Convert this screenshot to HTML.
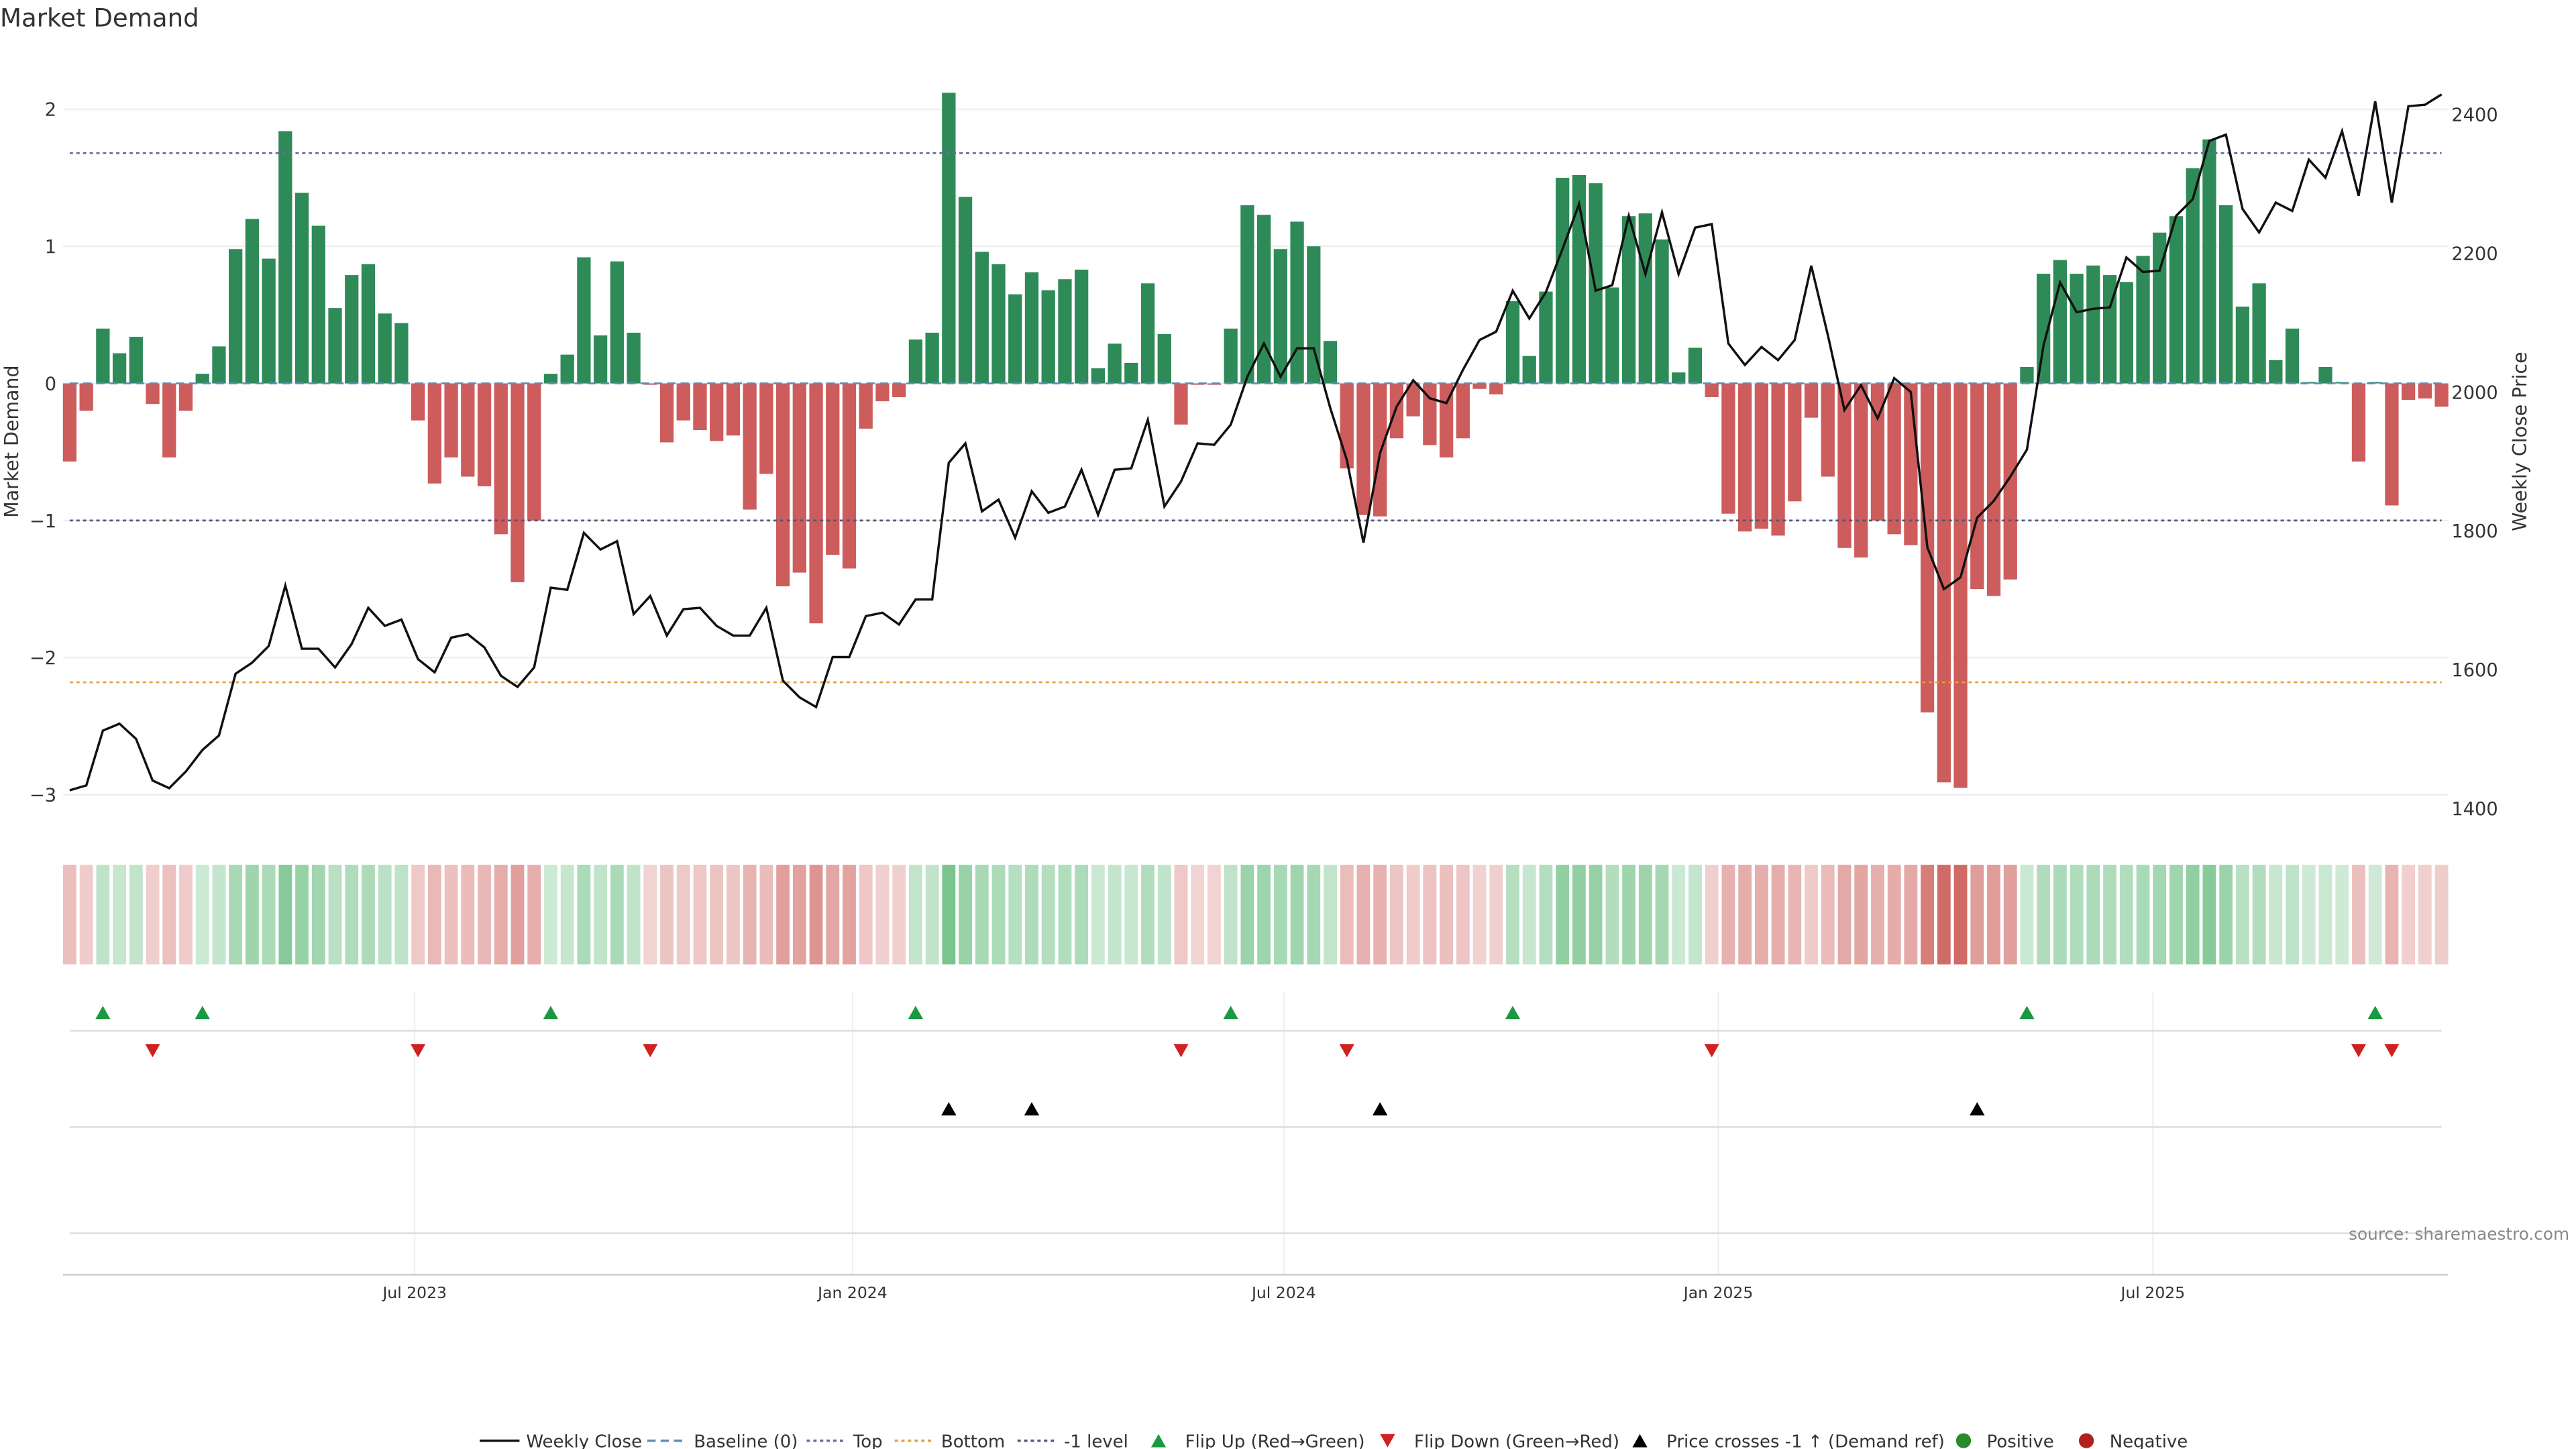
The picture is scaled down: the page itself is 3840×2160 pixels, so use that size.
<!DOCTYPE html>
<html><head><meta charset="utf-8"><style>
html,body{margin:0;padding:0;background:#fff;}
svg{display:block;font-family:"DejaVu Sans","Liberation Sans",sans-serif;}
</style></head><body>
<svg id="chart" width="3840" height="2160" viewBox="0 0 1552 873" preserveAspectRatio="none" xmlns="http://www.w3.org/2000/svg">
<text x="0" y="16" font-size="15" fill="#333">Market Demand</text>
<g id="g"></g>
<text x="0" y="0" font-size="11.5" fill="#333" transform="translate(11,266) rotate(-90)" text-anchor="middle">Market Demand</text>
<text x="0" y="0" font-size="11.5" fill="#333" transform="translate(1522,266) rotate(-90)" text-anchor="middle">Weekly Close Price</text>
<text x="1548" y="747" font-size="10" fill="#888" text-anchor="end">source: sharemaestro.com</text>
</svg>
<script>
const demand=[-0.57,-0.2,0.4,0.22,0.34,-0.15,-0.54,-0.2,0.07,0.27,0.98,1.2,0.91,1.84,1.39,1.15,0.55,0.79,0.87,0.51,0.44,-0.27,-0.73,-0.54,-0.68,-0.75,-1.1,-1.45,-1.0,0.07,0.21,0.92,0.35,0.89,0.37,-0.01,-0.43,-0.27,-0.34,-0.42,-0.38,-0.92,-0.66,-1.48,-1.38,-1.75,-1.25,-1.35,-0.33,-0.13,-0.1,0.32,0.37,2.12,1.36,0.96,0.87,0.65,0.81,0.68,0.76,0.83,0.11,0.29,0.15,0.73,0.36,-0.3,-0.01,-0.01,0.4,1.3,1.23,0.98,1.18,1.0,0.31,-0.62,-0.96,-0.97,-0.4,-0.24,-0.45,-0.54,-0.4,-0.04,-0.08,0.6,0.2,0.67,1.5,1.52,1.46,0.7,1.22,1.24,1.05,0.08,0.26,-0.1,-0.95,-1.08,-1.06,-1.11,-0.86,-0.25,-0.68,-1.2,-1.27,-1.0,-1.1,-1.18,-2.4,-2.91,-2.95,-1.5,-1.55,-1.43,0.12,0.8,0.9,0.8,0.86,0.79,0.74,0.93,1.1,1.22,1.57,1.78,1.3,0.56,0.73,0.17,0.4,0.01,0.12,0.01,-0.57,0.01,-0.89,-0.12,-0.11,-0.17];
const price=[1426,1433,1512,1522,1500,1440,1429,1453,1484,1505,1594,1610,1634,1721,1630,1630,1603,1637,1689,1663,1672,1615,1596,1646,1651,1632,1591,1575,1603,1718,1715,1797,1773,1785,1680,1706,1649,1687,1689,1663,1649,1649,1689,1584,1560,1546,1618,1618,1677,1682,1665,1701,1701,1898,1926,1828,1845,1790,1857,1826,1835,1888,1823,1888,1890,1960,1835,1871,1926,1924,1953,2022,2070,2022,2063,2063,1977,1902,1783,1912,1979,2017,1991,1984,2032,2075,2087,2146,2106,2144,2206,2271,2146,2154,2254,2170,2259,2170,2237,2242,2070,2039,2065,2046,2075,2182,2082,1974,2010,1962,2020,2000,1776,1716,1733,1819,1843,1878,1917,2067,2158,2115,2120,2122,2194,2173,2175,2254,2278,2362,2371,2264,2230,2273,2261,2335,2309,2376,2283,2419,2273,2412,2414,2429];
const leftTicks=[2,1,0,-1,-2,-3];
const rightTicks=[2400,2200,2000,1800,1600,1400];
const dateTickLabels=["Jul 2023","Jan 2024","Jul 2024","Jan 2025","Jul 2025"];
const dateTickWeeks=[20.8,47.2,73.2,99.4,125.6];
const topLevel=1.68, bottomLevel=-2.18, minusOneLevel=-1.0, priceRef=1814;

const NS="http://www.w3.org/2000/svg";
const g=document.getElementById('g');
function el(t,a,p){const e=document.createElementNS(NS,t);for(const k in a)e.setAttribute(k,a[k]);(p||g).appendChild(e);return e;}
const n=demand.length, step=(1471-42)/(n-1);
const X=i=>42+i*step;
const Y=v=>231-v*82.6;
const YP=p=>69+(2400-p)*0.418;
const XL=38, XR=1475;

// gridlines
leftTicks.forEach(t=>{const l=el('line',{x1:XL,x2:XR,y1:Y(t),y2:Y(t),stroke:'#ececec','stroke-width':0.8});

const tx=el('text',{x:34,y:Y(t)+4,'font-size':11,'text-anchor':'end',fill:'#333'});tx.textContent=t<0?'\u2212'+(-t):t;
});
rightTicks.forEach(t=>{const tx=el('text',{x:1477,y:YP(t)+4,'font-size':11,fill:'#333'});tx.textContent=t;
});
dateTickWeeks.forEach((w,k)=>{const x=X(w);
const l=el('line',{x1:x,x2:x,y1:598,y2:768,stroke:'#eee','stroke-width':0.8});

const tx=el('text',{x:x,y:782,'font-size':9.5,'text-anchor':'middle',fill:'#333'});tx.textContent=dateTickLabels[k];
});

// bars
const bw=step*0.82;
demand.forEach((v,i)=>{const y0=Y(0),y1=Y(v);
const r=el('rect',{x:X(i)-bw/2,y:Math.min(y0,y1),width:bw,height:Math.max(0.6,Math.abs(y1-y0)),fill:v>=0?'#2e8b57':'#cd5c5c'});
});

// reference lines
function hl(y,c,d,name){const l=el('line',{x1:42,x2:1471,y1:y,y2:y,stroke:c,'stroke-width':1.1,'stroke-dasharray':d});
}
hl(Y(0),'#5b8db8','5 3','baseline-line');
hl(Y(topLevel),'#6a6a9a','2 2','top-line');
hl(Y(bottomLevel),'#e0a040','2 2','bottom-line');
hl(Y(minusOneLevel),'#555577','2 2','minus-one-line');

// price line
const pl=el('polyline',{points:price.map((p,i)=>X(i)+','+YP(p)).join(' '),fill:'none',stroke:'#111','stroke-width':1.4});


// heatmap strip
const mx=Math.max(...demand.map(Math.abs));
demand.forEach((v,i)=>{const a=0.25+0.6*Math.abs(v)/mx;
const r=el('rect',{x:X(i)-4,y:521,width:8,height:60,fill:v>=0?'rgba(60,170,90,'+a+')':'rgba(200,80,75,'+a+')'});
});

// marker rows
[[621],[679],[743]].forEach(([y])=>{const l=el('line',{x1:42,x2:1471,y1:y,y2:y,stroke:'#ddd','stroke-width':1});
});
const ax=el('line',{x1:38,x2:1475,y1:768,y2:768,stroke:'#ccc','stroke-width':1});

function tri(x,y,up,c,name){const p=up?`${x-4.5},${y+4} ${x+4.5},${y+4} ${x},${y-4}`:`${x-4.5},${y-4} ${x+4.5},${y-4} ${x},${y+4}`;
const t=el('polygon',{points:p,fill:c});}
for(let i=1;i<n;i++){
 if(demand[i-1]<0&&demand[i]>=0)tri(X(i),610,true,'#1a9a40','flip-up-marker');
 if(demand[i-1]>=0&&demand[i]<0)tri(X(i),633,false,'#d02020','flip-down-marker');
 if(price[i-1]<priceRef&&price[i]>=priceRef)tri(X(i),668,true,'#000','price-cross-marker');
}

// legend
const items=[['line','#111','','Weekly Close'],['line','#5b8db8','5 3','Baseline (0)'],['line','#6a6a9a','2 2','Top'],['line','#e0a040','2 2','Bottom'],['line','#555577','2 2','-1 level'],['up','#1a9a40','','Flip Up (Red\u2192Green)'],['down','#d02020','','Flip Down (Green\u2192Red)'],['up','#000','','Price crosses -1 \u2191 (Demand ref)'],['dot','#2a8a2a','','Positive'],['dot','#b02020','','Negative']];
const lx=[289,390,486,539,613,692,830,982,1177,1251];
items.forEach((it,k)=>{const x=lx[k],y=868;const grp=el('g',{});

let tx;
if(it[0]==='line'){el('line',{x1:x,x2:x+24,y1:y,y2:y,stroke:it[1],'stroke-width':1.4,'stroke-dasharray':it[2]},grp);tx=x+28;}
else if(it[0]==='dot'){el('circle',{cx:x+6,cy:y,r:4.5,fill:it[1]},grp);tx=x+20;}
else{const up=it[0]==='up';const cx=x+6;el('polygon',{points:up?`${cx-4.5},${y+4} ${cx+4.5},${y+4} ${cx},${y-4}`:`${cx-4.5},${y-4} ${cx+4.5},${y-4} ${cx},${y+4}`,fill:it[1]},grp);tx=x+22;}
const t=el('text',{x:tx,y:y+4,'font-size':10.5,fill:'#333'},grp);t.textContent=it[3];});
</script>
</body></html>
